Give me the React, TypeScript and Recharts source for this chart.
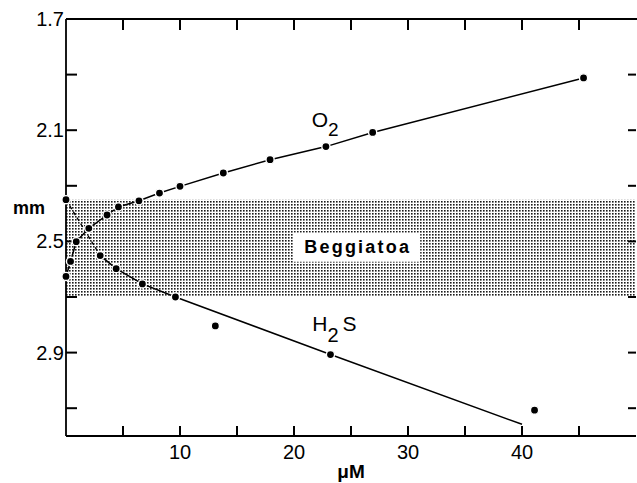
import React from 'react';
import { ComposedChart, Line, Scatter, XAxis, YAxis, ReferenceArea } from 'recharts';

// O2 profile (concentration µM vs depth mm)
const o2Conc = [0, 0.4, 0.9, 2.0, 3.6, 4.6, 6.4, 8.2, 10.0, 13.8, 17.9, 22.8, 26.9, 45.4];
const o2Depth = [2.626, 2.572, 2.501, 2.453, 2.405, 2.376, 2.354, 2.326, 2.302, 2.254, 2.206, 2.159, 2.108, 1.912];

// H2S measured points
const h2sConc = [0, 3.0, 4.4, 6.7, 9.6, 13.1, 23.2, 41.1];
const h2sDepth = [2.35, 2.551, 2.598, 2.653, 2.7, 2.804, 2.907, 3.107];

// H2S fitted curve (solid) and extrapolated part (dashed)
const h2sFitConc = [3.0, 4.4, 6.7, 9.6, 23.2, 40.0];
const h2sFitDepth = [2.551, 2.598, 2.653, 2.7, 2.907, 3.158];
const h2sDashConc = [0, 3.0];
const h2sDashDepth = [2.35, 2.551];

// Beggiatoa layer (depth range, mm)
const beggiatoaTop = 2.35;
const beggiatoaBottom = 2.7;

const xDomain = [0, 50];
const yDomain = [1.7, 3.2];
const xTicks = [5, 10, 15, 20, 25, 30, 35, 40, 45];
const xTickLabels = [10, 20, 30, 40];
const yTicks = [1.7, 1.9, 2.1, 2.3, 2.5, 2.7, 2.9, 3.1];
const yTickLabels = [1.7, 2.1, 2.5, 2.9];

// annotation anchors (data coordinates)
const o2LabelAt = [{ x: 21.55, y: 2.088 }];
const h2sLabelAt = [{ x: 21.6, y: 2.823 }];
const beggiatoaLabelAt = [{ x: 25.5, y: 2.521 }];
const mmLabelAt = [{ x: 0, y: 2.4 }];
const topFrameAt = [{ x: 25, y: 1.7 }];

const zip = (xs: number[], ys: number[]) => xs.map((x, i) => ({ x, y: ys[i] }));

const o2Data = zip(o2Conc, o2Depth);
const h2sData = zip(h2sConc, h2sDepth);
const h2sFit = zip(h2sFitConc, h2sFitDepth);
const h2sDash = zip(h2sDashConc, h2sDashDepth);

// inward tick marks on the frame, placed through the scales
const bottomMarks = xTicks.map((t) => ({ x: t, y: yDomain[1] }));
const topMarks = xTicks.map((t) => ({ x: t, y: yDomain[0] }));
const leftMarks = yTicks.map((t) => ({ x: xDomain[0], y: t }));
const rightMarks = yTicks.map((t) => ({ x: xDomain[1], y: t }));

const FONT = '"Liberation Sans", Arial, Helvetica, sans-serif';

const has = (arr: number[], v: number) => arr.some((a) => Math.abs(a - v) < 1e-6);

const DotShape = (props: any) => {
  const { cx, cy } = props;
  if (cx == null || cy == null) return null;
  return <circle cx={cx} cy={cy} r={4.1} fill="#000" stroke="#fff" strokeWidth={1.4} />;
};

// tick marks drawn as filled rectangles
const bottomShape = (p: any) => (p.cx == null ? null : <rect x={p.cx - 1} y={p.cy - 10} width={2} height={10} fill="#000" />);
const topShape = (p: any) => (p.cx == null ? null : <rect x={p.cx - 1} y={p.cy} width={2} height={11} fill="#000" />);
const leftShape = (p: any) => (p.cx == null ? null : <rect x={p.cx} y={p.cy - 1} width={11} height={2} fill="#000" />);
const rightShape = (p: any) => (p.cx == null ? null : <rect x={p.cx - 8} y={p.cy - 1} width={8} height={2} fill="#000" />);
const topFrameShape = (p: any) =>
  p.cx == null ? null : <rect x={p.cx - 285} y={p.cy - 1} width={571} height={2} fill="#000" />;

const O2Label = (props: any) => {
  const { cx, cy } = props;
  if (cx == null || cy == null) return null;
  return (
    <text x={cx} y={cy} fontSize={21} fill="#000" fontFamily={FONT}>
      O
      <tspan dy={9} fontSize={19}>2</tspan>
    </text>
  );
};

const H2SLabel = (props: any) => {
  const { cx, cy } = props;
  if (cx == null || cy == null) return null;
  return (
    <text x={cx} y={cy} fontSize={21} fill="#000" fontFamily={FONT}>
      H
      <tspan dy={11} fontSize={20}>2</tspan>
      <tspan dy={-11} dx={4}>S</tspan>
    </text>
  );
};

const BeggiatoaLabel = (props: any) => {
  const { cx, cy } = props;
  if (cx == null || cy == null) return null;
  return (
    <g>
      <rect x={cx - 63.5} y={cy - 14.5} width={127} height={29} fill="#fff" />
      <text
        x={cx + 1}
        y={cy + 6}
        textAnchor="middle"
        fontSize={18}
        fontWeight="bold"
        letterSpacing={2.2}
        fill="#000"
        fontFamily={FONT}
      >
        Beggiatoa
      </text>
    </g>
  );
};

const MmLabel = (props: any) => {
  const { cx, cy } = props;
  if (cx == null || cy == null) return null;
  return (
    <text x={cx - 53} y={cy} fontSize={18} fontWeight="bold" fill="#000" fontFamily={FONT}>
      mm
    </text>
  );
};

const BottomTick = (props: any) => {
  const { x, y, payload } = props;
  const v = payload && payload.value;
  if (!has(xTickLabels, v)) return null;
  return (
    <text x={x} y={y + 23} textAnchor="middle" fontSize={20} fill="#000" fontFamily={FONT}>
      {String(v)}
    </text>
  );
};

const LeftTick = (props: any) => {
  const { x, y, payload } = props;
  const v = payload && payload.value;
  if (!has(yTickLabels, v)) return null;
  return (
    <text x={x - 2} y={y + 7} textAnchor="end" fontSize={20} fill="#000" fontFamily={FONT}>
      {v.toFixed(1)}
    </text>
  );
};

export default function App() {
  return (
    <div style={{ position: 'absolute', left: 0, top: 0, background: '#fff' }}>
      <ComposedChart
        width={637}
        height={483}
        margin={{ top: 19, right: 1, bottom: 0, left: 0 }}
        style={{ fontFamily: FONT }}
      >
        <defs>
          <pattern id="stipple" patternUnits="userSpaceOnUse" width={3} height={3}>
            <rect x={0} y={0} width={3} height={3} fill="#fff" />
            <rect x={0} y={0} width={1.6} height={1.6} fill="#1a1a1a" />
          </pattern>
        </defs>
        <XAxis
          dataKey="x"
          type="number"
          domain={xDomain}
          ticks={xTicks}
          interval={0}
          height={47}
          tickSize={0}
          tickMargin={0}
          tick={BottomTick}
          tickLine={false}
          axisLine={{ stroke: '#000', strokeWidth: 1.8 }}
          label={{ value: 'μM', position: 'insideBottom', offset: 5, fontSize: 19, fontWeight: 'bold', fill: '#000' }}
        />
        <YAxis
          dataKey="y"
          type="number"
          domain={yDomain}
          reversed
          ticks={yTicks}
          interval={0}
          width={66}
          tickSize={0}
          tickMargin={0}
          tick={LeftTick}
          tickLine={false}
          axisLine={{ stroke: '#000', strokeWidth: 1.8 }}
        />

        <ReferenceArea
          x1={xDomain[0]}
          x2={xDomain[1]}
          y1={beggiatoaTop}
          y2={beggiatoaBottom}
          fill="url(#stipple)"
          fillOpacity={1}
          stroke="none"
        />

        <Line
          data={h2sDash}
          dataKey="y"
          type="linear"
          stroke="#000"
          strokeWidth={1.3}
          strokeDasharray="4 3"
          dot={false}
          activeDot={false}
          isAnimationActive={false}
        />
        <Line
          data={h2sFit}
          dataKey="y"
          type="linear"
          stroke="#000"
          strokeWidth={1.5}
          dot={false}
          activeDot={false}
          isAnimationActive={false}
        />
        <Line
          data={o2Data}
          dataKey="y"
          type="linear"
          stroke="#000"
          strokeWidth={1.5}
          dot={false}
          activeDot={false}
          isAnimationActive={false}
        />
        <Scatter data={topFrameAt} dataKey="y" shape={topFrameShape} isAnimationActive={false} />
        <Scatter data={bottomMarks} dataKey="y" shape={bottomShape} isAnimationActive={false} />
        <Scatter data={topMarks} dataKey="y" shape={topShape} isAnimationActive={false} />
        <Scatter data={leftMarks} dataKey="y" shape={leftShape} isAnimationActive={false} />
        <Scatter data={rightMarks} dataKey="y" shape={rightShape} isAnimationActive={false} />
        <Scatter data={o2Data} dataKey="y" shape={DotShape} isAnimationActive={false} />
        <Scatter data={h2sData} dataKey="y" shape={DotShape} isAnimationActive={false} />
        <Scatter data={beggiatoaLabelAt} dataKey="y" shape={BeggiatoaLabel} isAnimationActive={false} />
        <Scatter data={o2LabelAt} dataKey="y" shape={O2Label} isAnimationActive={false} />
        <Scatter data={h2sLabelAt} dataKey="y" shape={H2SLabel} isAnimationActive={false} />
        <Scatter data={mmLabelAt} dataKey="y" shape={MmLabel} isAnimationActive={false} />
      </ComposedChart>
    </div>
  );
}
